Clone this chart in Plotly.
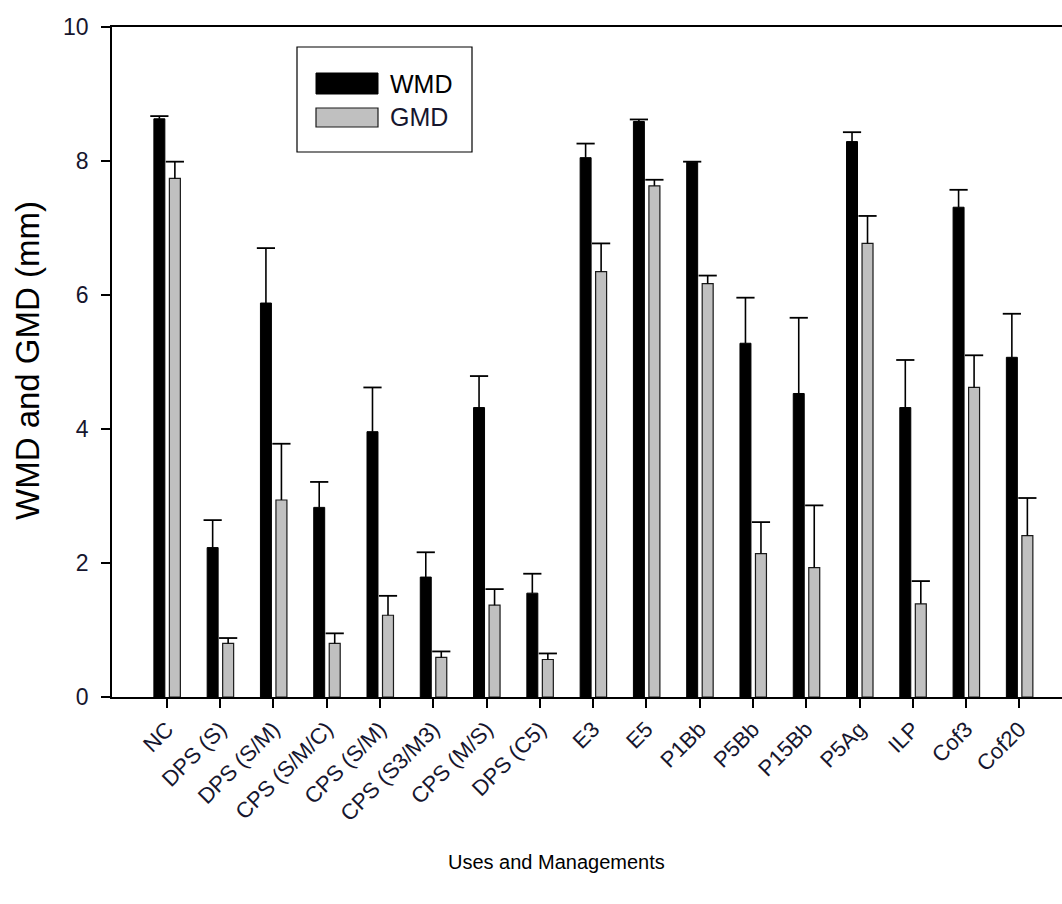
import plotly.graph_objects as go

categories = ["NC", "DPS (S)", "DPS (S/M)", "CPS (S/M/C)", "CPS (S/M)", "CPS (S3/M3)",
              "CPS (M/S)", "DPS (C5)", "E3", "E5", "P1Bb", "P5Bb", "P15Bb", "P5Ag",
              "ILP", "Cof3", "Cof20"]
wmd = [8.63, 2.23, 5.88, 2.83, 3.96, 1.79, 4.32, 1.55, 8.05, 8.59, 7.98, 5.28, 4.53, 8.29, 4.32, 7.31, 5.07]
wmd_top = [8.67, 2.64, 6.70, 3.21, 4.62, 2.16, 4.79, 1.84, 8.26, 8.62, 7.99, 5.96, 5.66, 8.43, 5.03, 7.57, 5.72]
gmd = [7.74, 0.80, 2.94, 0.80, 1.22, 0.59, 1.37, 0.56, 6.35, 7.63, 6.17, 2.14, 1.93, 6.77, 1.39, 4.62, 2.41]
gmd_top = [7.99, 0.88, 3.78, 0.95, 1.51, 0.68, 1.61, 0.65, 6.77, 7.72, 6.29, 2.61, 2.86, 7.18, 1.73, 5.10, 2.97]
y_ticks = [0, 2, 4, 6, 8, 10]

wmd_err = [t - v for t, v in zip(wmd_top, wmd)]
gmd_err = [t - v for t, v in zip(gmd_top, gmd)]
xs = list(range(len(categories)))

BW = 0.206
B_CENTER = -0.141
G_CENTER = 0.150
FONT = "Liberation Sans, Arial, sans-serif"
TXT = "#16162e"

fig = go.Figure()
fig.add_trace(go.Bar(
    x=xs, y=wmd, name="WMD", width=BW, offset=B_CENTER - BW / 2,
    marker=dict(color="black", line=dict(color="black", width=1)),
    error_y=dict(type="data", array=wmd_err, arrayminus=[0] * len(wmd), symmetric=False,
                 color="black", thickness=1.6, width=0),
    showlegend=False,
))
fig.add_trace(go.Bar(
    x=xs, y=gmd, name="GMD", width=BW, offset=G_CENTER - BW / 2,
    marker=dict(color="#c0c0c0", line=dict(color="#1a1a1a", width=1.2)),
    error_y=dict(type="data", array=gmd_err, arrayminus=[0] * len(gmd), symmetric=False,
                 color="black", thickness=1.6, width=0),
    showlegend=False,
))
# error bar caps
fig.add_trace(go.Scatter(
    x=[i + B_CENTER for i in xs], y=wmd_top, mode="markers", showlegend=False, hoverinfo="skip",
    marker=dict(symbol="line-ew", size=13, line=dict(color="black", width=1.8)),
))
fig.add_trace(go.Scatter(
    x=[i + G_CENTER for i in xs], y=gmd_top, mode="markers", showlegend=False, hoverinfo="skip",
    marker=dict(symbol="line-ew", size=13, line=dict(color="black", width=1.8)),
))

L, T, B = 112, 27, 697
W, H = 1062, 904
PW, PH = W - L, B - T


def px(x):
    return (x - L) / PW


def py(y):
    return (B - y) / PH


shapes = [
    dict(type="rect", xref="paper", yref="paper", x0=px(297), x1=px(472), y0=py(152), y1=py(47),
         line=dict(color="black", width=1.2), fillcolor="white", layer="above"),
    dict(type="rect", xref="paper", yref="paper", x0=px(316), x1=px(378), y0=py(94), y1=py(73),
         line=dict(color="black", width=1), fillcolor="black", layer="above"),
    dict(type="rect", xref="paper", yref="paper", x0=px(316), x1=px(378), y0=py(127), y1=py(108),
         line=dict(color="#1a1a1a", width=1.2), fillcolor="#c0c0c0", layer="above"),
]
annotations = [
    dict(text="WMD", xref="paper", yref="paper", x=px(388), y=py(84), xanchor="left", yanchor="middle",
         showarrow=False, font=dict(family=FONT, size=25, color="black")),
    dict(text="GMD", xref="paper", yref="paper", x=px(388), y=py(117), xanchor="left", yanchor="middle",
         showarrow=False, font=dict(family=FONT, size=25, color=TXT)),
    dict(text="Uses and Managements", xref="paper", yref="paper", x=px(556), y=py(862),
         xanchor="center", yanchor="middle", showarrow=False,
         font=dict(family=FONT, size=20, color="black")),
    dict(text="WMD and GMD (mm)", xref="paper", yref="paper", x=px(27), y=py(361),
         xanchor="center", yanchor="middle", showarrow=False, textangle=-90,
         font=dict(family=FONT, size=33, color="black")),
]

fig.update_layout(
    width=W, height=H,
    margin=dict(l=L, r=0, t=T, b=H - B),
    paper_bgcolor="white", plot_bgcolor="white",
    barmode="overlay",
    font=dict(family=FONT, size=20, color="black"),
    shapes=shapes, annotations=annotations,
    xaxis=dict(
        range=[-1.03, 16.8], tickmode="array", tickvals=xs, ticktext=categories,
        tickangle=-45, ticks="outside", ticklen=9, tickwidth=1.5, tickcolor="black",
        showline=True, linecolor="black", linewidth=1.5, mirror=True,
        showgrid=False, zeroline=False,
        tickfont=dict(family=FONT, size=22, color=TXT),
    ),
    yaxis=dict(
        range=[0, 10], tickmode="array", tickvals=y_ticks,
        ticks="outside", ticklen=9, tickwidth=1.5, tickcolor="black",
        showline=True, linecolor="black", linewidth=1.5,
        showgrid=False, zeroline=False, ticklabelstandoff=8,
        tickfont=dict(family=FONT, size=23, color=TXT),
    ),
)

fig.write_html("out.html", config={"displayModeBar": False},
               post_script="document.body.style.margin='0px';document.body.style.overflow='hidden';")
